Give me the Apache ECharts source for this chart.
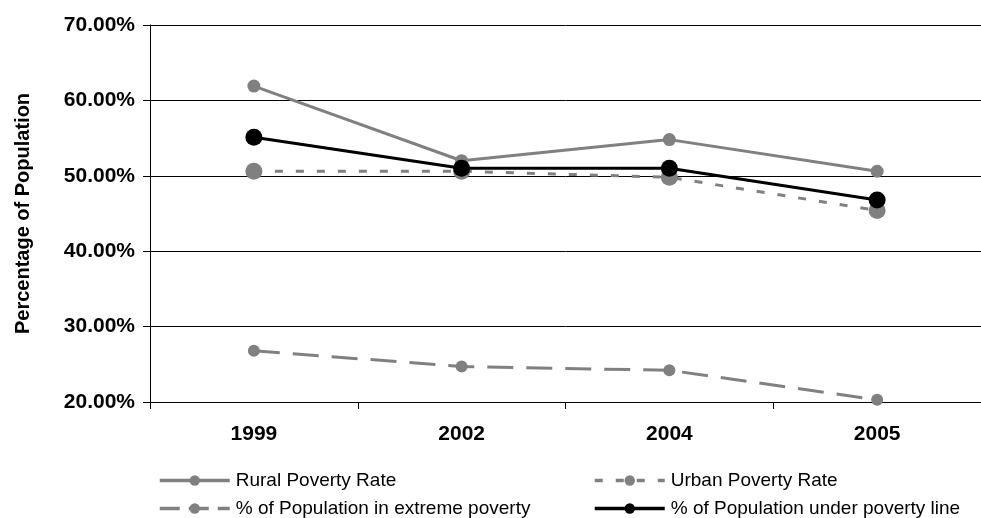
<!DOCTYPE html>
<html>
<head>
<meta charset="utf-8">
<script src="https://cdn.jsdelivr.net/npm/echarts@6/dist/echarts.min.js"></script>
<style>
  html, body { margin: 0; padding: 0; background: #fff; }
  #chart { width: 981px; height: 518px; }
</style>
</head>
<body>
<div id="chart"></div>
<script>
// Survey years and poverty measures (percent of population)
const years = ['1999', '2002', '2004', '2005'];
const ruralRate = [61.9, 52.0, 54.8, 50.6];
const urbanRate = [50.6, 50.6, 49.8, 45.4];
const extremePoverty = [26.8, 24.7, 24.2, 20.3];
const underPovertyLine = [55.1, 51.0, 51.0, 46.8];

const GRAY = '#808080';
const FONT = 'Liberation Sans, Arial, sans-serif';

const chart = echarts.init(document.getElementById('chart'));

// one legend entry per box, laid out as a 2x2 block under the axis
function legendItem(name, left, top, dash) {
  return {
    left: left, top: top, padding: 0, orient: 'horizontal',
    itemWidth: 70, itemHeight: 13, itemGap: 0,
    lineStyle: { width: 3.5, type: dash || 'inherit' },
    textStyle: { fontFamily: FONT, fontSize: 19, color: '#000', padding: [0, 0, 0, 1] },
    data: [name]
  };
}

chart.setOption({
  animation: false,
  backgroundColor: '#fff',
  grid: { left: 150, top: 25, width: 838, height: 377 },
  legend: [
    legendItem('Rural Poverty Rate', 158, 471),
    legendItem('% of Population in extreme poverty', 158, 499, [20, 9]),
    legendItem('Urban Poverty Rate', 593, 471),
    legendItem('% of Population under poverty line', 593, 499)
  ],
  xAxis: {
    type: 'category',
    data: years,
    boundaryGap: true,
    axisLine: { lineStyle: { color: '#000', width: 1 } },
    axisTick: { show: true, length: 7, inside: false, lineStyle: { color: '#000' } },
    axisLabel: { fontFamily: FONT, fontSize: 21, fontWeight: 'bold', color: '#000', margin: 22 }
  },
  yAxis: {
    type: 'value',
    min: 20, max: 70, interval: 10,
    name: 'Percentage of Population',
    nameLocation: 'middle',
    nameGap: 117,
    nameRotate: 90,
    nameTextStyle: { fontFamily: FONT, fontSize: 20, fontWeight: 'bold', color: '#000' },
    axisLine: { show: true, lineStyle: { color: '#000', width: 1 } },
    axisTick: { show: true, length: 7, lineStyle: { color: '#000' } },
    axisLabel: {
      fontFamily: FONT, fontSize: 21, fontWeight: 'bold', color: '#000', margin: 15,
      formatter: v => v.toFixed(2) + '%'
    },
    splitLine: { show: true, lineStyle: { color: '#000', width: 1 } }
  },
  series: [
    {
      name: 'Rural Poverty Rate', type: 'line', data: ruralRate,
      symbol: 'circle', symbolSize: 13,
      lineStyle: { color: GRAY, width: 3 },
      itemStyle: { color: GRAY }, z: 3
    },
    {
      name: 'Urban Poverty Rate', type: 'line', data: urbanRate,
      symbol: 'circle', symbolSize: 17,
      lineStyle: { color: GRAY, width: 3, type: [8, 13] },
      itemStyle: { color: GRAY }, z: 2
    },
    {
      name: '% of Population in extreme poverty', type: 'line', data: extremePoverty,
      symbol: 'circle', symbolSize: 12,
      lineStyle: { color: GRAY, width: 3, type: [26, 13] },
      itemStyle: { color: GRAY }, z: 2
    },
    {
      name: '% of Population under poverty line', type: 'line', data: underPovertyLine,
      symbol: 'circle', symbolSize: 17,
      lineStyle: { color: '#000', width: 3 },
      itemStyle: { color: '#000' }, z: 4
    }
  ]
});
</script>
</body>
</html>
